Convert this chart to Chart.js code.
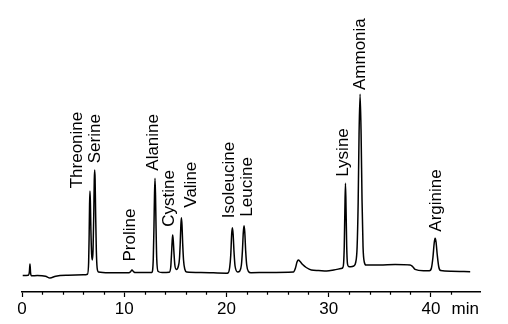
<!DOCTYPE html>
<html><head><meta charset="utf-8">
<script src="https://cdn.jsdelivr.net/npm/chart.js@4.4.1/dist/chart.umd.min.js"></script>
<style>html,body{margin:0;padding:0;background:#fff;}canvas{display:block;}</style>
</head><body>
<canvas id="c" width="508" height="324"></canvas>
<script>
// ---- data (retention time in min, detector signal in arbitrary units) ----
const times = [
  0.07, 0.62, 0.72, 0.78, 0.84, 0.92, 1.5, 2.3, 2.74, 3.3, 4.5, 6.0,
  6.40, 6.52, 6.57, 6.61, 6.65, 6.69, 6.74, 6.81, 6.88, 6.95, 7.02, 7.07, 7.11, 7.15, 7.20, 7.27, 7.35, 7.48,
  8.5, 10.45, 10.62, 10.76, 10.90, 11.10,
  12.70, 12.84, 12.91, 12.96, 13.01, 13.06, 13.11, 13.18, 13.32, 13.7,
  14.40, 14.55, 14.63, 14.69, 14.74, 14.80, 14.86, 14.95, 15.10,
  15.30, 15.40, 15.47, 15.54, 15.59, 15.65, 15.72, 15.80, 15.92, 16.10,
  17.5, 20.0, 20.15, 20.32, 20.42, 20.51, 20.58, 20.65, 20.74, 20.84, 21.10,
  21.30, 21.46, 21.56, 21.65, 21.72, 21.79, 21.88, 21.98, 22.15, 22.40,
  24.0, 26.55, 26.75, 26.90, 27.04, 27.20, 27.45, 27.80, 28.30, 29.00, 29.80, 30.50,
  31.20, 31.38, 31.46, 31.52, 31.58, 31.64, 31.70, 31.76, 31.84, 31.95, 32.15,
  32.45, 32.65, 32.78, 32.88, 32.97, 33.07, 33.17, 33.26, 33.36, 33.48, 33.65,
  35.0, 36.5, 37.96, 38.20, 38.45, 39.27,
  39.85, 40.05, 40.20, 40.32, 40.41, 40.50, 40.62, 40.77, 40.95, 42.0, 43.84
];
const signal = [
  16.5, 16.8, 20, 28, 19, 16.2, 16.5, 15.8, 14, 15.8, 16.8, 17.2,
  17.8, 30, 58, 88, 101, 89, 62, 38, 32, 42, 78, 112, 122, 113, 80, 42, 24, 20,
  19.3, 19.3, 20.3, 22, 20.5, 19.4,
  19.5, 33, 66, 97, 113.7, 97, 66, 33, 20.5, 19.5,
  19.8, 25, 39, 51, 57, 51, 40, 27, 22.5,
  26, 33, 47, 67, 74.3, 67, 48, 32, 23, 20,
  19.5, 18.8, 19, 25, 37, 58, 64.3, 58, 40, 26, 20,
  21, 27, 41, 60, 66.3, 60, 41, 27, 20.5, 19.3,
  19.5, 20, 24, 30, 32, 30.5, 27.5, 24.5, 22, 21.5, 21, 22,
  23.5, 24.5, 29, 45, 80, 108.7, 82, 46, 28, 25.5, 25.3,
  26, 30, 45, 88, 158, 197.7, 158, 92, 45, 30, 27,
  27, 27.5, 27, 25.5, 22.7, 21.3,
  21.3, 24, 35, 49, 53.7, 50, 37, 25, 21.5, 20.8, 20.3
];
const peakNames = ['Threonine','Serine','Proline','Alanine','Cystine','Valine',
                   'Isoleucine','Leucine','Lysine','Ammonia','Arginine'];
const peakTimes = [6.65, 7.11, 10.76, 13.01, 14.74, 15.59, 20.58, 21.72, 31.64, 33.07, 40.41];
const xTickValues = [0, 10, 20, 30, 40];
const xMinorTickValues = [2, 4, 6, 8, 12, 14, 16, 18, 22, 24, 26, 28, 32, 34, 36, 38, 42];
const xUnitLabel = 'min';

// ---- layout / style ----
const FONT = '"Liberation Sans", Arial, Helvetica, sans-serif';
// per-label [baseline x offset from peak px, gap above peak top px]
const labelLayout = {
  Threonine: [-7.5, 2.7], Serine: [4.9, 6.7], Proline: [3, 8.5], Alanine: [3, 7.6],
  Cystine: [1.6, 8.3], Valine: [14.5, 10], Isoleucine: [1.7, 9.4], Leucine: [7.7, 9],
  Lysine: [2.2, 6.6], Ammonia: [4.6, 4.3], Arginine: [5.8, 6.6]
};

const peakLabelPlugin = {
  id: 'peakLabels',
  afterDatasetsDraw(chart) {
    const ctx = chart.ctx, xs = chart.scales.x, ys = chart.scales.y;
    ctx.save();
    ctx.fillStyle = '#000';
    ctx.font = '17px ' + FONT;
    ctx.textAlign = 'left';
    ctx.textBaseline = 'alphabetic';
    peakNames.forEach((name, i) => {
      const t = peakTimes[i];
      const v = signal[times.indexOf(t)];
      const lay = labelLayout[name];
      const bx = xs.getPixelForValue(t) + lay[0];
      const by = ys.getPixelForValue(v) - lay[1];
      ctx.save();
      ctx.translate(bx, by);
      ctx.rotate(-Math.PI / 2);
      ctx.fillText(name, 0, 0);
      ctx.restore();
    });
    ctx.restore();
  }
};

const axisExtrasPlugin = {
  id: 'axisExtras',
  afterDraw(chart) {
    const ctx = chart.ctx, xs = chart.scales.x;
    const y0 = chart.chartArea.bottom;
    ctx.save();
    ctx.strokeStyle = '#000';
    ctx.lineWidth = 1.2;
    ctx.beginPath();
    xMinorTickValues.forEach(v => {
      const x = Math.round(xs.getPixelForValue(v)) + 0.5;
      ctx.moveTo(x, y0);
      ctx.lineTo(x, y0 + 2.8);
    });
    ctx.stroke();
    ctx.fillStyle = '#000';
    ctx.font = '17px ' + FONT;
    ctx.textAlign = 'left';
    ctx.textBaseline = 'middle';
    ctx.fillText(xUnitLabel, 451.5, y0 + 5 + 2 + 10.2);
    ctx.restore();
  }
};

new Chart(document.getElementById('c'), {
  type: 'line',
  data: {
    datasets: [{
      data: times.map((t, i) => ({ x: t, y: signal[i] })),
      borderColor: '#000',
      borderWidth: 1.5,
      pointRadius: 0,
      cubicInterpolationMode: 'monotone',
      borderJoinStyle: 'round',
      fill: false
    }]
  },
  options: {
    responsive: false,
    animation: false,
    devicePixelRatio: 1,
    layout: { padding: { left: 22, right: 28, top: 0, bottom: 2.6 } },
    plugins: { legend: { display: false }, tooltip: { enabled: false } },
    scales: {
      x: {
        type: 'linear',
        min: 0,
        max: 44.8,
        afterBuildTicks: (scale) => { scale.ticks = xTickValues.map(v => ({ value: v })); },
        ticks: {
          color: '#000',
          font: { size: 17, family: FONT },
          padding: 2,
          maxRotation: 0,
          autoSkip: false,
          callback: (v) => String(v)
        },
        grid: { drawOnChartArea: false, drawTicks: true, tickLength: 5, tickWidth: 1.2, tickColor: '#000' },
        border: { display: true, color: '#000', width: 1.5 }
      },
      y: {
        display: false,
        min: 0,
        max: 292
      }
    }
  },
  plugins: [peakLabelPlugin, axisExtrasPlugin]
});
</script>
</body></html>
